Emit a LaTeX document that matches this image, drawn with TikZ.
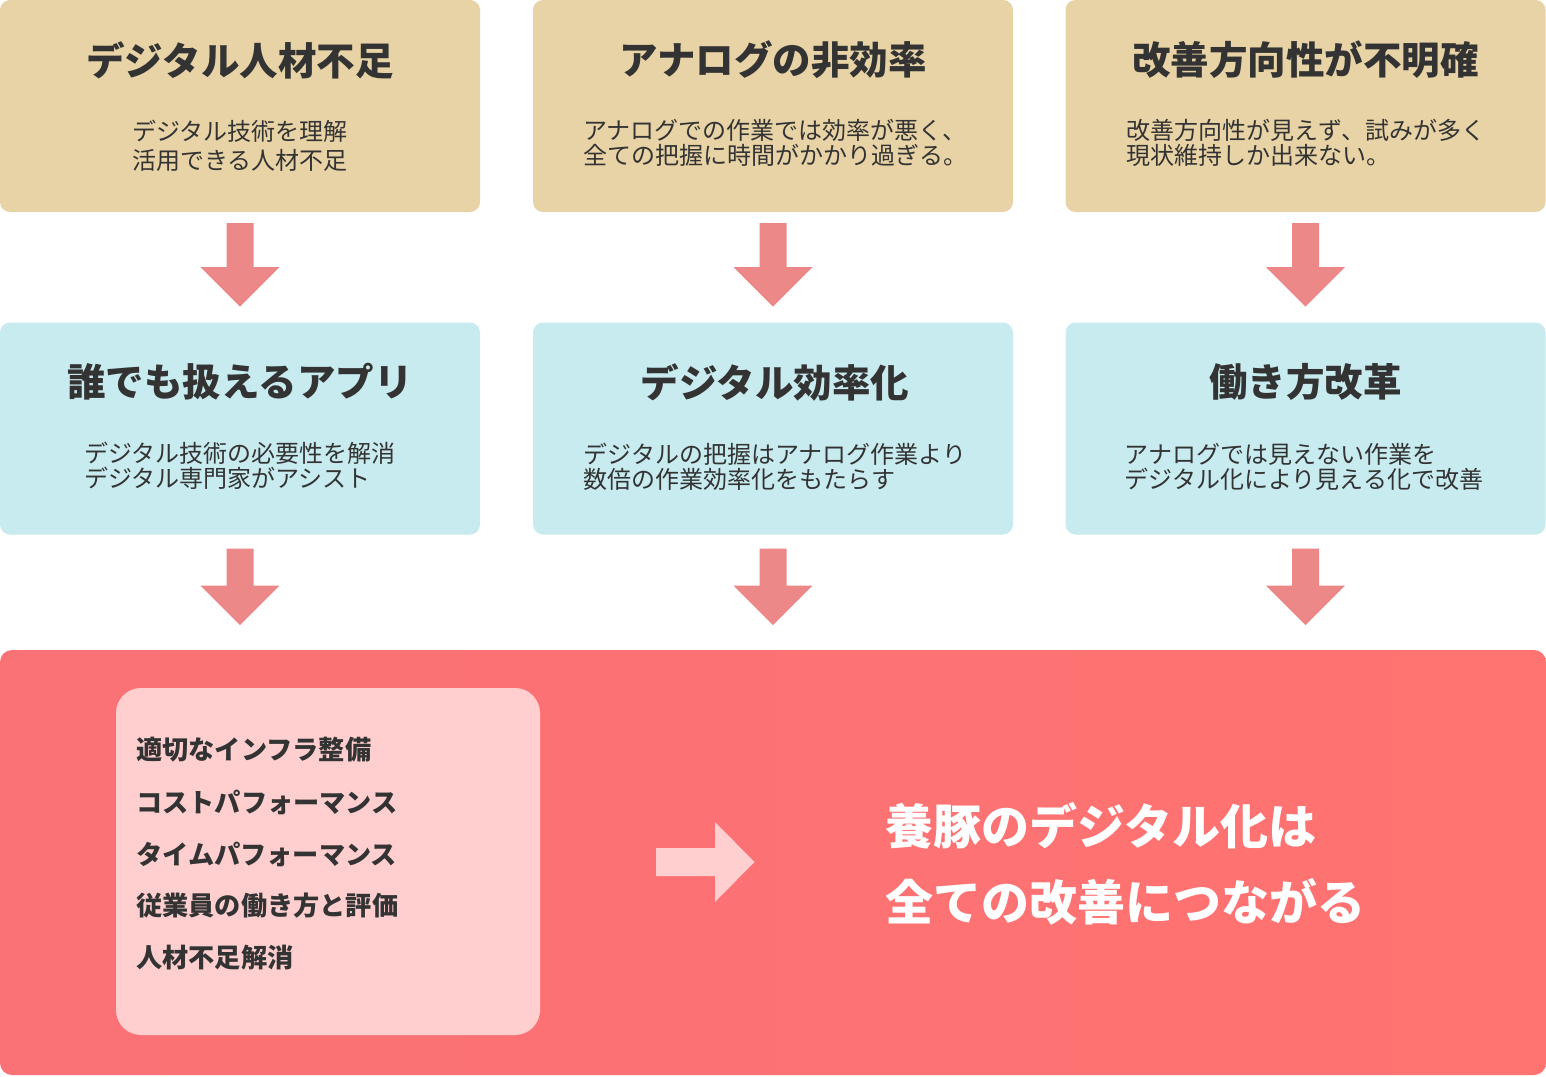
\documentclass[tikz,border=0pt]{standalone}
\usepackage{fontspec}
\setmainfont{Noto Sans CJK JP}
\usetikzlibrary{calc}
\definecolor{topc}{HTML}{E8D3A6}
\definecolor{midc}{HTML}{C8EBEF}
\definecolor{arrowc}{HTML}{EC8888}
\definecolor{botl}{HTML}{FA7276}
\definecolor{botr}{HTML}{FF7371}
\definecolor{innerc}{HTML}{FFCFCF}
\definecolor{txt}{HTML}{333333}
\tikzset{
  card/.style={rectangle, rounded corners=10pt, minimum width=480pt, minimum height=212pt, inner sep=0pt, draw=none},
  title/.style={font=\fontsize{38.5}{46}\selectfont\bfseries, text=txt, inner sep=0pt, anchor=center},
  sub/.style={font=\fontsize{24}{#1}\selectfont, text=txt, align=left, inner sep=0pt, anchor=center},
  item/.style={font=\fontsize{26.2}{30}\selectfont\bfseries, text=txt, inner sep=0pt, anchor=west},
  big/.style={font=\fontsize{48}{56}\selectfont\bfseries, text=white, inner sep=0pt, anchor=west},
}
\begin{document}
\begin{tikzpicture}[x=1pt,y=-1pt]
\useasboundingbox (0,0) rectangle (1546,1076);
% top row
\node[card, fill=topc] (t1) at (240,106) {};
\node[card, fill=topc] (t2) at (773,106) {};
\node[card, fill=topc] (t3) at (1305.5,106) {};
\node[title] (tt1) at (240,60) {デジタル人材不足};
\node[title] (tt2) at (773,60) {アナログの非効率};
\node[title] (tt3) at (1305.5,60) {改善方向性が不明確};
\node[sub=29] (ts1) at (240,146) {デジタル技術を理解\\活用できる人材不足};
\node[sub=24.5] (ts2) at (775,143) {アナログでの作業では効率が悪く、\\全ての把握に時間がかかり過ぎる。};
\node[sub=24.5] (ts3) at (1306,143) {改善方向性が見えず、試みが多く\\現状維持しか出来ない。};
% middle row
\node[card, fill=midc] (m1) at (240,428.5) {};
\node[card, fill=midc] (m2) at (773,428.5) {};
\node[card, fill=midc] (m3) at (1305.5,428.5) {};
\node[title] (mt1) at (240,382) {誰でも扱えるアプリ};
\node[title] (mt2) at (775,382) {デジタル効率化};
\node[title] (mt3) at (1305.5,382) {働き方改革};
\node[sub=24.5] (ms1) at (240,466) {デジタル技術の必要性を解消\\デジタル専門家がアシスト};
\node[sub=24.5] (ms2) at (775,467) {デジタルの把握はアナログ作業より\\数倍の作業効率化をもたらす};
\node[sub=24.5] (ms3) at (1304,467) {アナログでは見えない作業を\\デジタル化により見える化で改善};
% bottom panel
\node[rectangle, rounded corners=12pt, minimum width=1546pt, minimum height=425pt, inner sep=0pt, left color=botl, right color=botr] (bot) at (773,862.5) {};
\node[rectangle, rounded corners=25pt, minimum width=424pt, minimum height=347pt, inner sep=0pt, fill=innerc] (inner) at (328,861.5) {};
\node[item] (i1) at (136,750) {適切なインフラ整備};
\node[item] (i2) at (136,802) {コストパフォーマンス};
\node[item] (i3) at (136,854) {タイムパフォーマンス};
\node[item] (i4) at (136,906) {従業員の働き方と評価};
\node[item] (i5) at (136,958) {人材不足解消};
\node[big] (b1) at (885,826) {養豚のデジタル化は};
\node[big] (b2) at (885,902) {全ての改善につながる};
% down arrows
\foreach \a/\b in {t1/m1,t2/m2,t3/m3}{
  \fill[arrowc] ($(\a.south)+(-13.5,11)$) -- ++(27,0) -- ++(0,44) -- ++(26,0) -- ++(-39.5,39.5) -- ++(-39.5,-39.5) -- ++(26,0) -- cycle;
}
\foreach \a in {m1,m2,m3}{
  \fill[arrowc] ($(\a.south)+(-13.5,14)$) -- ++(27,0) -- ++(0,37) -- ++(26,0) -- ++(-39.5,39.5) -- ++(-39.5,-39.5) -- ++(26,0) -- cycle;
}
% right arrow
\coordinate (ra) at (656,862);
\fill[innerc] ($(ra)+(0,-14)$) -- ++(59,0) -- ++(0,-26) -- ++(39.5,40) -- ++(-39.5,40) -- ++(0,-26) -- ++(-59,0) -- cycle;
\end{tikzpicture}
\end{document}
